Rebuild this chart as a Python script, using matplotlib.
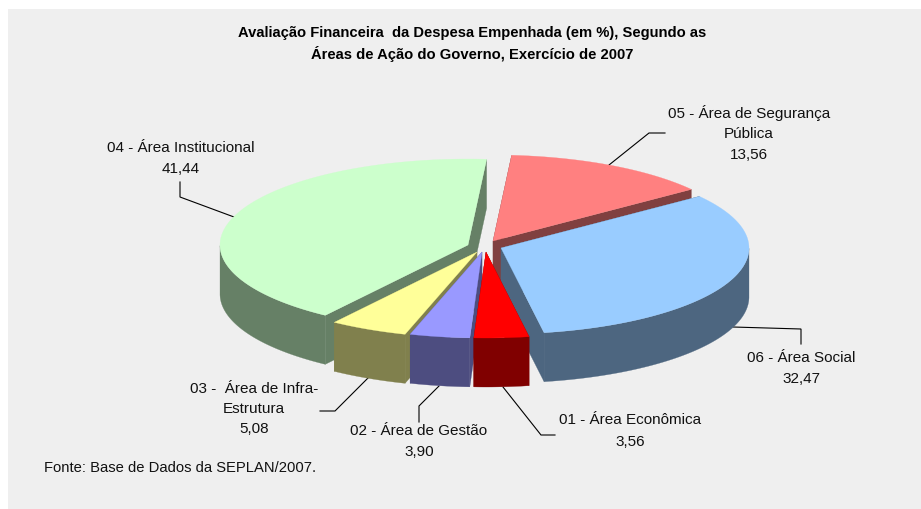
import numpy as np
import matplotlib
matplotlib.use("Agg")
import matplotlib.pyplot as plt
from matplotlib.patches import Polygon, Rectangle

# ---- data ----
codes = ["01", "02", "03", "04", "05", "06"]
areas = ["Área Econômica", "Área de Gestão", "Área de Infra-Estrutura",
         "Área Institucional", "Área de Segurança Pública", "Área Social"]
values = [3.56, 3.90, 5.08, 41.44, 13.56, 32.47]
value_labels = ["3,56", "3,90", "5,08", "41,44", "13,56", "32,47"]
top_colors = ["#FF0000", "#9999FF", "#FFFF99", "#CCFFCC", "#FF8080", "#99CCFF"]
wall_colors = ["#800000", "#4D4D80", "#80804D", "#668066", "#804040", "#4D6680"]
title_lines = ["Avaliação Financeira  da Despesa Empenhada (em %), Segundo as",
               "Áreas de Ação do Governo, Exercício de 2007"]
source = "Fonte: Base de Dados da SEPLAN/2007."

# ---- layout (pixels) ----
W, H = 921, 509
RX, RY, DEPTH = 248, 86, 49
START_DEG = 170.0
apex_x = [486, 482, 477, 468, 493, 501]
apex_y = [252, 252, 252, 245, 241, 248]
draw_order = [4, 3, 5, 2, 1, 0]
FS = 11.0
TS = 10.6
SS = 10.65

label_text = [
    ([f"{codes[0]} - {areas[0]}", value_labels[0]], 630, [420, 442]),
    ([f"{codes[1]} - {areas[1]}", value_labels[1]], 419, [431, 452]),
    ([f"{codes[2]} -  Área de Infra-", "Estrutura", value_labels[2]], 254, [389, 409, 429]),
    ([f"{codes[3]} - {areas[3]}", value_labels[3]], 181, [148, 169]),
    ([f"{codes[4]} - Área de Segurança", "Pública", value_labels[4]], 749, [113, 134, 155]),
    ([f"{codes[5]} - {areas[5]}", value_labels[5]], 801, [358, 379]),
]
leaders = [
    [(555, 435), (541, 435), (503, 387)],
    [(419, 422), (419, 406), (439, 386)],
    [(320, 411), (335, 411), (368, 378)],
    [(180, 182), (180, 197), (234, 217)],
    [(665, 133), (649, 133), (609, 165)],
    [(733, 327), (801, 329), (801, 344)],
]

plt.rcParams["font.family"] = ["Liberation Sans", "DejaVu Sans"]
fig = plt.figure(figsize=(W / 100, H / 100), dpi=100, facecolor="white")
ax = fig.add_axes([0, 0, 1, 1])
ax.set_xlim(0, W)
ax.set_ylim(H, 0)
ax.axis("off")
ax.add_patch(Rectangle((8, 9), W - 8, H - 9, fc="#EFEFEF", ec="none", zorder=0))

total = sum(values)
edges = START_DEG + np.concatenate([[0], np.cumsum(values)]) / total * 360.0

z = 2
for i in draw_order:
    ax_, ay_ = apex_x[i], apex_y[i]
    t = np.radians(np.linspace(edges[i], edges[i + 1], 300))
    xs = ax_ + RX * np.sin(t)
    ys = ay_ - RY * np.cos(t)
    for j in (0, -1):
        quad = [(ax_, ay_), (xs[j], ys[j]), (xs[j], ys[j] + DEPTH), (ax_, ay_ + DEPTH)]
        ax.add_patch(Polygon(quad, fc=wall_colors[i], ec=wall_colors[i], lw=0.2, zorder=z))
    front = np.cos(t) <= 0
    if front.any():
        fx, fy = xs[front], ys[front]
        band = np.vstack([np.c_[fx, fy], np.c_[fx[::-1], fy[::-1] + DEPTH]])
        ax.add_patch(Polygon(band, fc=wall_colors[i], ec=wall_colors[i], lw=0.2, zorder=z))
    top = np.vstack([[ax_, ay_], np.c_[xs, ys]])
    ax.add_patch(Polygon(top, fc=top_colors[i], ec=top_colors[i], lw=0.2, zorder=z))
    z += 1

for pts in leaders:
    p = np.array(pts)
    ax.plot(p[:, 0], p[:, 1], color="black", lw=0.8, zorder=1, solid_joinstyle="miter")

for lines, cx, ys_ in label_text:
    for s, y in zip(lines, ys_):
        ax.text(cx, y, s, ha="center", va="center", fontsize=FS, color="#111111", zorder=20)

for s, y in zip(title_lines, (33, 54)):
    ax.text(472, y, s, ha="center", va="center", fontsize=TS, fontweight="bold", color="black", zorder=20)
ax.text(44, 468, source, ha="left", va="center", fontsize=SS, color="#111111", zorder=20)

fig.savefig("out.png", dpi=100, facecolor="white")
